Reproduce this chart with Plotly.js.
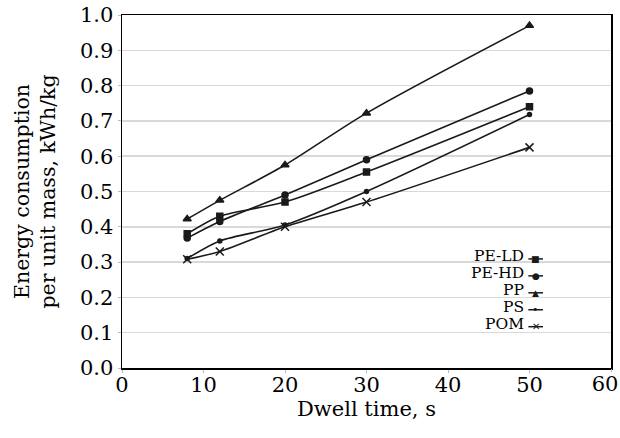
<!DOCTYPE html>
<html>
<head>
<meta charset="utf-8">
<script src="https://cdn.plot.ly/plotly-3.0.1.min.js"></script>
<style>html,body{margin:0;padding:0;background:#fff;}#chart{width:620px;height:438px;}</style>
</head>
<body>
<div id="chart"></div>
<script>
const dwellTime = [8, 12, 20, 30, 50];
const peLD = [0.38, 0.43, 0.47, 0.555, 0.74];
const peHD = [0.368, 0.415, 0.49, 0.59, 0.785];
const pp = [0.422, 0.475, 0.575, 0.722, 0.97];
const ps = [0.31, 0.36, 0.405, 0.50, 0.718];
const pom = [0.308, 0.33, 0.40, 0.47, 0.625];
const seriesNames = ['PE-LD', 'PE-HD', 'PP', 'PS', 'POM'];
const xTicks = [0, 10, 20, 30, 40, 50, 60];
const yTicks = [0, 0.1, 0.2, 0.3, 0.4, 0.5, 0.6, 0.7, 0.8, 0.9, 1.0];

const FONT = 'DejaVu Serif, serif';
const LC = '#1a1a1a';
const seriesValues = [peLD, peHD, pp, ps, pom];
const markers = [
  {symbol: 'square', size: 6},
  {symbol: 'circle', size: 6},
  {symbol: 'triangle-up', size: 7},
  {symbol: 'circle', size: 4},
  {symbol: 'x-thin', size: 8}
];
const glyphs = ['■', '●', '▲', '•', '✕'];
const glyphSize = [9, 9, 9, 11, 10];

const traces = seriesValues.map((vals, i) => ({
  x: dwellTime, y: vals, name: seriesNames[i], type: 'scatter', mode: 'lines+markers',
  line: {color: LC, width: 1.6, shape: 'spline', smoothing: 0.8},
  marker: Object.assign({color: LC, line: {color: LC, width: 1.5}}, markers[i]),
  showlegend: false
}));
// empty trace so the overlay axis carrying the last x tick label is drawn
traces.push({x: [], y: [], type: 'scatter', mode: 'markers', xaxis: 'x2', yaxis: 'y', showlegend: false, hoverinfo: 'skip'});

// legend (text left, symbol right, like the original)
const textY = [0.318, 0.270, 0.222, 0.174, 0.126];
const symY = [0.309, 0.261, 0.213, 0.165, 0.117];
const annotations = [];
const shapes = [{type: 'rect', xref: 'paper', yref: 'paper', x0: 0.828, x1: 0.884, y0: 0.094, y1: 0.338,
  fillcolor: '#fff', line: {width: 0}, layer: 'between'}];
seriesNames.forEach((n, i) => {
  annotations.push({xref: 'paper', yref: 'paper', x: 0.824, y: textY[i], xanchor: 'right', yanchor: 'middle',
    text: n, showarrow: false, borderpad: 0, font: {family: FONT, size: 15.5, color: '#000'}});
  shapes.push({type: 'line', xref: 'paper', yref: 'paper', x0: 0.831, x1: 0.861, y0: symY[i], y1: symY[i],
    line: {color: LC, width: 1.5}, layer: 'above'});
  annotations.push({xref: 'paper', yref: 'paper', x: 0.846, y: symY[i], xanchor: 'center', yanchor: 'middle',
    text: glyphs[i], showarrow: false, borderpad: 0, font: {family: 'DejaVu Sans', size: glyphSize[i], color: LC}});
});

const tickFont = {family: FONT, size: 21, color: '#000'};
const xMain = xTicks.slice(0, -1);
const xLast = xTicks.slice(-1);

const layout = {
  width: 620, height: 438,
  margin: {l: 122, r: 9, t: 15, b: 70},
  paper_bgcolor: '#fff', plot_bgcolor: '#fff',
  font: {family: FONT, size: 21, color: '#000'},
  xaxis: {
    range: [0, 60], tickvals: xMain, ticktext: xMain.map(String),
    showgrid: false, zeroline: false,
    showline: true, linecolor: '#000', linewidth: 1.5, mirror: true,
    ticks: 'outside', ticklen: 3, tickcolor: '#bbb', tickwidth: 1,
    ticklabeloverflow: 'allow', ticklabelstandoff: -6,
    tickfont: tickFont,
    title: {text: 'Dwell time, s', font: {family: FONT, size: 21, color: '#000'}, standoff: 0}
  },
  xaxis2: {
    overlaying: 'x', anchor: 'y', side: 'bottom',
    range: [0, 60], tickvals: xLast, ticktext: xLast.map(String),
    showgrid: false, zeroline: false, showline: false,
    ticks: 'outside', ticklen: 3, tickcolor: '#bbb', tickwidth: 1,
    ticklabeloverflow: 'allow', ticklabelstandoff: -6, ticklabelshift: -6,
    tickfont: tickFont
  },
  yaxis: {
    range: [0, 1.0], tickvals: yTicks, ticktext: yTicks.map(v => v.toFixed(1)),
    showgrid: true, gridcolor: '#d9d9d9', gridwidth: 1.5, zeroline: false,
    showline: true, linecolor: '#000', linewidth: 1.5, mirror: true,
    ticks: 'outside', ticklen: 3, tickcolor: '#bbb', tickwidth: 1,
    ticklabeloverflow: 'allow',
    tickfont: tickFont,
    title: {text: 'Energy consumption<br>per unit mass, kWh/kg', font: {family: FONT, size: 20.5, color: '#000'}, standoff: 18}
  },
  annotations: annotations,
  shapes: shapes
};

Plotly.newPlot('chart', traces, layout, {displayModeBar: false, staticPlot: true});
</script>
</body>
</html>
